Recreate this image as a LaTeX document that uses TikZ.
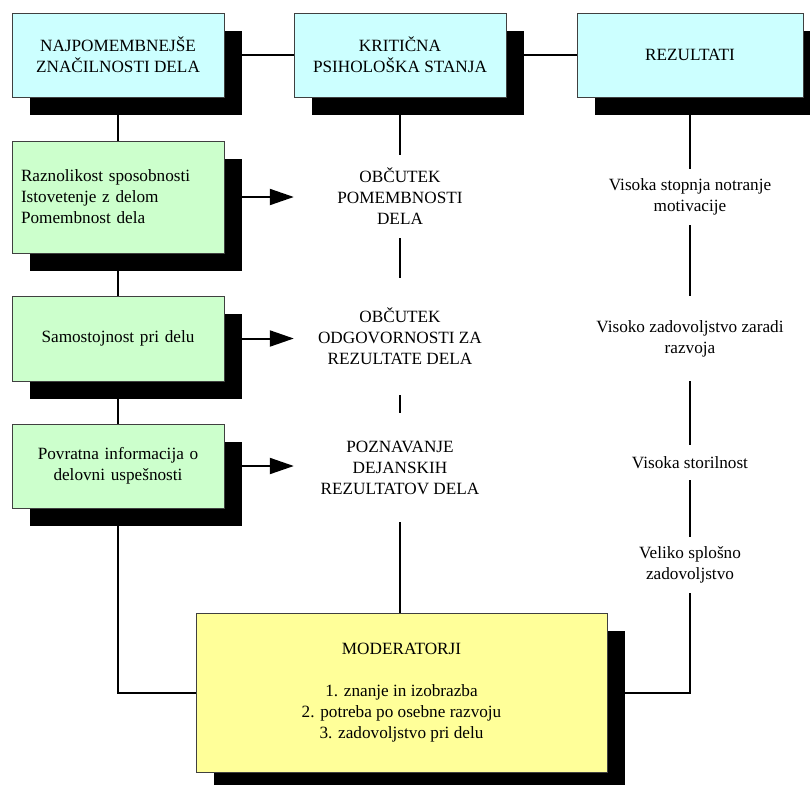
\documentclass[tikz,border=0pt]{standalone}
\usepackage{fontspec}
\setmainfont{Liberation Serif}
\usetikzlibrary{arrows.meta,shadows,backgrounds}
\definecolor{boxcyan}{HTML}{CCFFFF}
\definecolor{boxgreen}{HTML}{CCFFCC}
\definecolor{boxyellow}{HTML}{FFFF99}
\begin{document}
\begin{tikzpicture}[x=1pt,y=-1pt,
    every node/.style={font=\fontsize{17.2}{21}\selectfont},
    box/.style={draw=black!75,line width=0.8pt,minimum width=212pt,inner sep=0pt,
      drop shadow={shadow xshift=18pt,shadow yshift=-18pt,fill=black,opacity=1}},
    head/.style={box,fill=boxcyan,minimum height=84pt,align=center},
    trait/.style={box,fill=boxgreen,text width=194pt,inner xsep=9pt},
    state/.style={fill=white,inner sep=0pt,minimum width=212pt,align=center},
    result/.style={fill=white,inner sep=0pt,minimum width=200pt,align=center},
    link/.style={line width=2pt},
    arrow/.style={link,-{Triangle[length=24pt,width=16pt]}}]
  \useasboundingbox (0,0) rectangle (810,784);
  \clip (0,0) rectangle (810,784);
  % Top row
  \node[head] (traits) at (118,55) {NAJPOMEMBNEJŠE\\ZNAČILNOSTI DELA};
  \node[head] (states) at (400,55) {KRITIČNA\\PSIHOLOŠKA STANJA};
  \node[head,minimum width=226pt] (results) at (690,55) {REZULTATI};
  % Job characteristics
  \node[trait,minimum height=112pt,align=left] (skill) at (118,197) {Raznolikost sposobnosti\\Istovetenje z delom\\Pomembnost dela};
  \node[trait,minimum height=85pt,align=center] (autonomy) at (118,338.5) {Samostojnost pri delu};
  \node[trait,minimum height=84pt,align=center] (feedback) at (118,466) {Povratna informacija o\\delovni uspešnosti};
  % Psychological states
  \node[state,minimum height=83pt] (meaning) at (400,196.5) {OBČUTEK\\POMEMBNOSTI\\DELA};
  \node[state,minimum height=117pt] (responsibility) at (400,336.5) {OBČUTEK\\ODGOVORNOSTI ZA\\REZULTATE DELA};
  \node[state,minimum height=109pt] (knowledge) at (400,467.5) {POZNAVANJE\\DEJANSKIH\\REZULTATOV DELA};
  % Outcomes
  \node[result,minimum height=56pt] (motivation) at (690,197) {Visoka stopnja notranje\\motivacije};
  \node[result,minimum height=85pt] (growth) at (690,338.5) {Visoko zadovoljstvo zaradi\\razvoja};
  \node[result,minimum height=35pt] (performance) at (690,462.5) {Visoka storilnost};
  \node[result,minimum height=56pt] (satisfaction) at (690,565) {Veliko splošno\\zadovoljstvo};
  % Moderators
  \node[box,fill=boxyellow,minimum width=411pt,minimum height=159pt,align=center] (moderators) at (401.5,692.5)
    {MODERATORJI\\[21pt]1. znanje in izobrazba\\2. potreba po osebne razvoju\\3. zadovoljstvo pri delu};
  % Connectors behind the boxes
  \begin{scope}[on background layer]
    \draw[link] (traits) -- (states) -- (results);
    \draw[link] (traits) |- (moderators.west);
    \draw[link] (states) -- (states |- moderators.north);
    \draw[link] (results) |- (moderators.east);
    \draw[arrow] (skill) -- (skill -| meaning.west);
    \draw[arrow] (autonomy) -- (autonomy -| responsibility.west);
    \draw[arrow] (feedback) -- (feedback -| knowledge.west);
  \end{scope}
\end{tikzpicture}
\end{document}
